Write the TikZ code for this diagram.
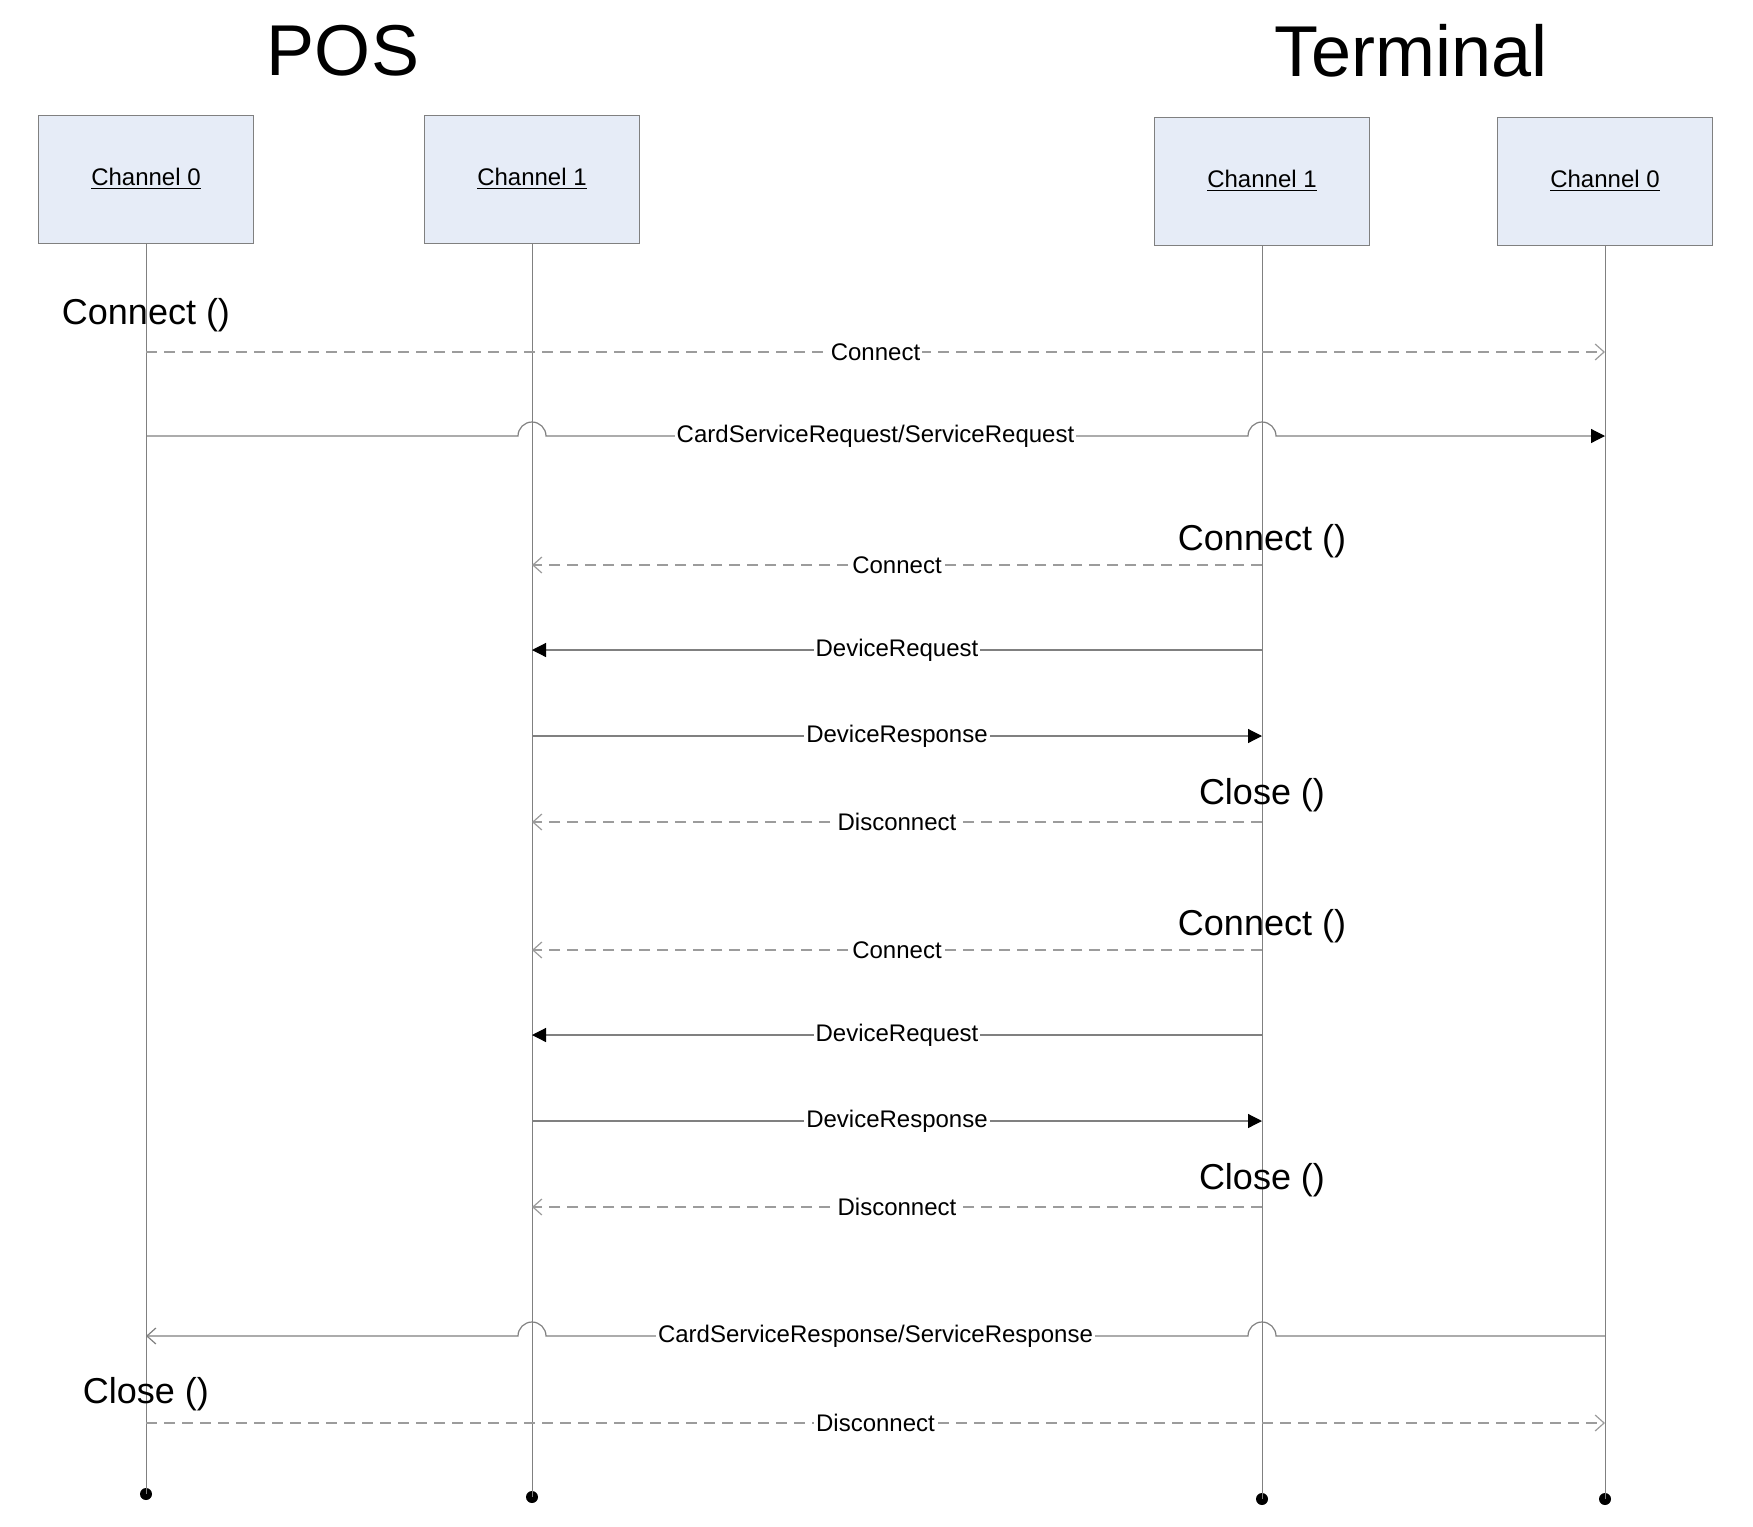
\documentclass[tikz,border=0pt]{standalone}
\usepackage{fontspec}
\setmainfont{Liberation Sans}
\usetikzlibrary{positioning,arrows.meta,calc}

\definecolor{boxfill}{HTML}{E6ECF7}
\definecolor{linegray}{HTML}{808080}
\definecolor{dashgray}{HTML}{9C9C9C}

\begin{document}
\begin{tikzpicture}[
    x=0.5pt, y=-0.5pt,
    every node/.style = {font=\fontsize{12}{14}\selectfont},
    chan/.style       = {rectangle, draw=linegray, fill=boxfill, minimum width=107.5pt,
                          minimum height=64pt, inner sep=0pt},
    title/.style      = {font=\fontsize{36}{40}\selectfont},
    call/.style       = {font=\fontsize{18}{21}\selectfont},
    msg/.style        = {fill=white, inner sep=1pt},
    life/.style       = {draw=linegray, line width=0.5pt},
    enddot/.style     = {circle, fill=black, inner sep=0pt, minimum size=6pt},
    sync/.style       = {draw=linegray, line width=0.6pt,
                          -{Triangle[length=7pt, width=7pt, color=black]}},
    async/.style      = {draw=dashgray, line width=0.6pt, dash pattern=on 5.5pt off 3.5pt,
                          -{Straight Barb[length=4.5pt, width=8pt]}},
    reply/.style      = {draw=linegray, line width=0.6pt,
                          -{Straight Barb[length=4.5pt, width=8pt]}},
]
\useasboundingbox (0,0) rectangle (1753,1527);

% Titles of the two sides
\node[title] (postitle)  at (343, 51)  {POS};
\node[title] (termtitle) at (1411, 51) {Terminal};

% Channel heads and the ends of their lifelines
\node[chan] (pos0)  at (146, 179)  {\underline{Channel 0}};
\node[chan] (pos1)  at (532, 179)  {\underline{Channel 1}};
\node[chan] (term1) at (1262, 181) {\underline{Channel 1}};
\node[chan] (term0) at (1605, 181) {\underline{Channel 0}};

\node[enddot] (pos0end)  at (146, 1494)  {};
\node[enddot] (pos1end)  at (532, 1497)  {};
\node[enddot] (term1end) at (1262, 1499) {};
\node[enddot] (term0end) at (1605, 1499) {};

\foreach \c in {pos0, pos1, term1, term0} {
    \draw[life] (\c.south) -- (\c end.center);
}

% Channel 0: connect and send the service request
\node[call] (open0) at (146, 315) {Connect ()};
\coordinate (con0) at (0, 352);
\draw[async] (pos0 |- con0) -- (term0 |- con0)
    node[msg, midway] (con0lab) {Connect};

\coordinate (req) at (0, 436);
\draw[sync] (pos0 |- req) -- ($(pos1 |- req)+(-14,0)$)
    arc[start angle=180, end angle=0, radius=7pt] -- ($(term1 |- req)+(-14,0)$)
    arc[start angle=180, end angle=0, radius=7pt] -- (term0 |- req);
\node[msg] (reqlab) at ($(pos0 |- req)!0.5!(term0 |- req)$) {CardServiceRequest/ServiceRequest};

% Channel 1: two device request rounds opened by the terminal
\foreach \b/\dy in {a/0, b/385} {
    \node[call] (open\b) at (1262, 541+\dy) {Connect ()};
    \coordinate (con\b) at (0, 565+\dy);
    \draw[async] (term1 |- con\b) -- (pos1 |- con\b)
        node[msg, midway] (con\b lab) {Connect};

    \coordinate (dreq\b) at (0, 650+\dy);
    \draw[sync] (term1 |- dreq\b) -- (pos1 |- dreq\b)
        node[msg, midway] (dreq\b lab) {DeviceRequest};

    \coordinate (drsp\b) at (0, 736+\dy);
    \draw[sync] (pos1 |- drsp\b) -- (term1 |- drsp\b)
        node[msg, midway] (drsp\b lab) {DeviceResponse};

    \node[call] (close\b) at (1262, 795+\dy) {Close ()};
    \coordinate (dis\b) at (0, 822+\dy);
    \draw[async] (term1 |- dis\b) -- (pos1 |- dis\b)
        node[msg, midway] (dis\b lab) {Disconnect};
}

% Channel 0: service response and close
\coordinate (rsp) at (0, 1336);
\draw[reply] (term0 |- rsp) -- ($(term1 |- rsp)+(14,0)$)
    arc[start angle=0, end angle=180, radius=7pt] -- ($(pos1 |- rsp)+(14,0)$)
    arc[start angle=0, end angle=180, radius=7pt] -- (pos0 |- rsp);
\node[msg] (rsplab) at ($(pos0 |- rsp)!0.5!(term0 |- rsp)$) {CardServiceResponse/ServiceResponse};

\node[call] (close0) at (146, 1394) {Close ()};
\coordinate (dis0) at (0, 1423);
\draw[async] (pos0 |- dis0) -- (term0 |- dis0)
    node[msg, midway] (dis0lab) {Disconnect};

\end{tikzpicture}
\end{document}
